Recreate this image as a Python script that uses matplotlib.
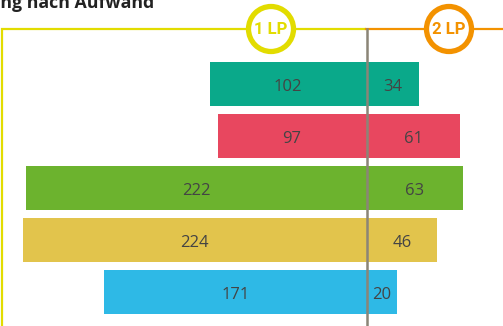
import matplotlib.pyplot as plt
from matplotlib.patches import Circle

# Aufwand je Gruppe: links 1 LP, rechts 2 LP
lp1 = [102, 97, 222, 224, 171]
lp2 = [34, 61, 63, 46, 20]
colors = ["#0aa98a", "#e8475f", "#6cb32e", "#e2c44c", "#2eb9e6"]

W, H = 503, 326
fig = plt.figure(figsize=(W / 100, H / 100), dpi=100)

# Rahmen, Kreise und Titel in Pixelkoordinaten
deco = fig.add_axes([0, 0, 1, 1])
deco.set_xlim(0, W)
deco.set_ylim(H, 0)
deco.axis("off")

ax = fig.add_axes([0, 0, 1, 1], zorder=2)
ax.patch.set_alpha(0)
ax.axis("off")
px = 1.535  # Pixel je Einheit
x0 = 366.5
ax.set_xlim(-x0 / px, (W - x0) / px)
pitch, top = 52, 84
ax.set_ylim((H - top) / pitch, -top / pitch)

y = range(len(lp1))
ax.barh(y, [-v for v in lp1], height=44 / pitch, color=colors)
ax.barh(y, lp2, height=44 / pitch, color=colors)

off = 7 / pitch  # Grundlinie etwas unter Balkenmitte
for i in y:
    ax.text(-lp1[i] / 2, i + off, str(lp1[i]), ha="center", va="baseline",
            fontsize=12, color="#444444", family="Open Sans")
    ax.text(lp2[i] / 2, i + off, str(lp2[i]), ha="center", va="baseline",
            fontsize=12, color="#444444", family="Open Sans")

yline = 29
deco.plot([2.5, 2.5, x0], [H, yline, yline], color="#e2dc00", lw=1.6,
          solid_capstyle="butt", solid_joinstyle="miter")
deco.plot([x0, W], [yline, yline], color="#f39200", lw=1.6)
ax.plot([0, 0], [(yline - top) / pitch, (H - top) / pitch], color="#8b8577",
        lw=1.8, zorder=5)

for cx, col, txt in [(271, "#e2dc00", "1 LP"), (449, "#f39200", "2 LP")]:
    deco.add_patch(Circle((cx, yline), 22.5, facecolor="white", edgecolor=col,
                          lw=3.8, zorder=3))
    deco.text(cx, yline + 5.5, txt, ha="center", va="baseline", color=col,
              fontsize=12, fontweight="bold", family="Roboto", zorder=4)

deco.text(154, 7.5, "Verteilung nach Aufwand", ha="right", va="baseline",
          fontsize=12.8, fontweight="bold", color="#222222", family="Open Sans")

fig.savefig("out.png", dpi=100)
